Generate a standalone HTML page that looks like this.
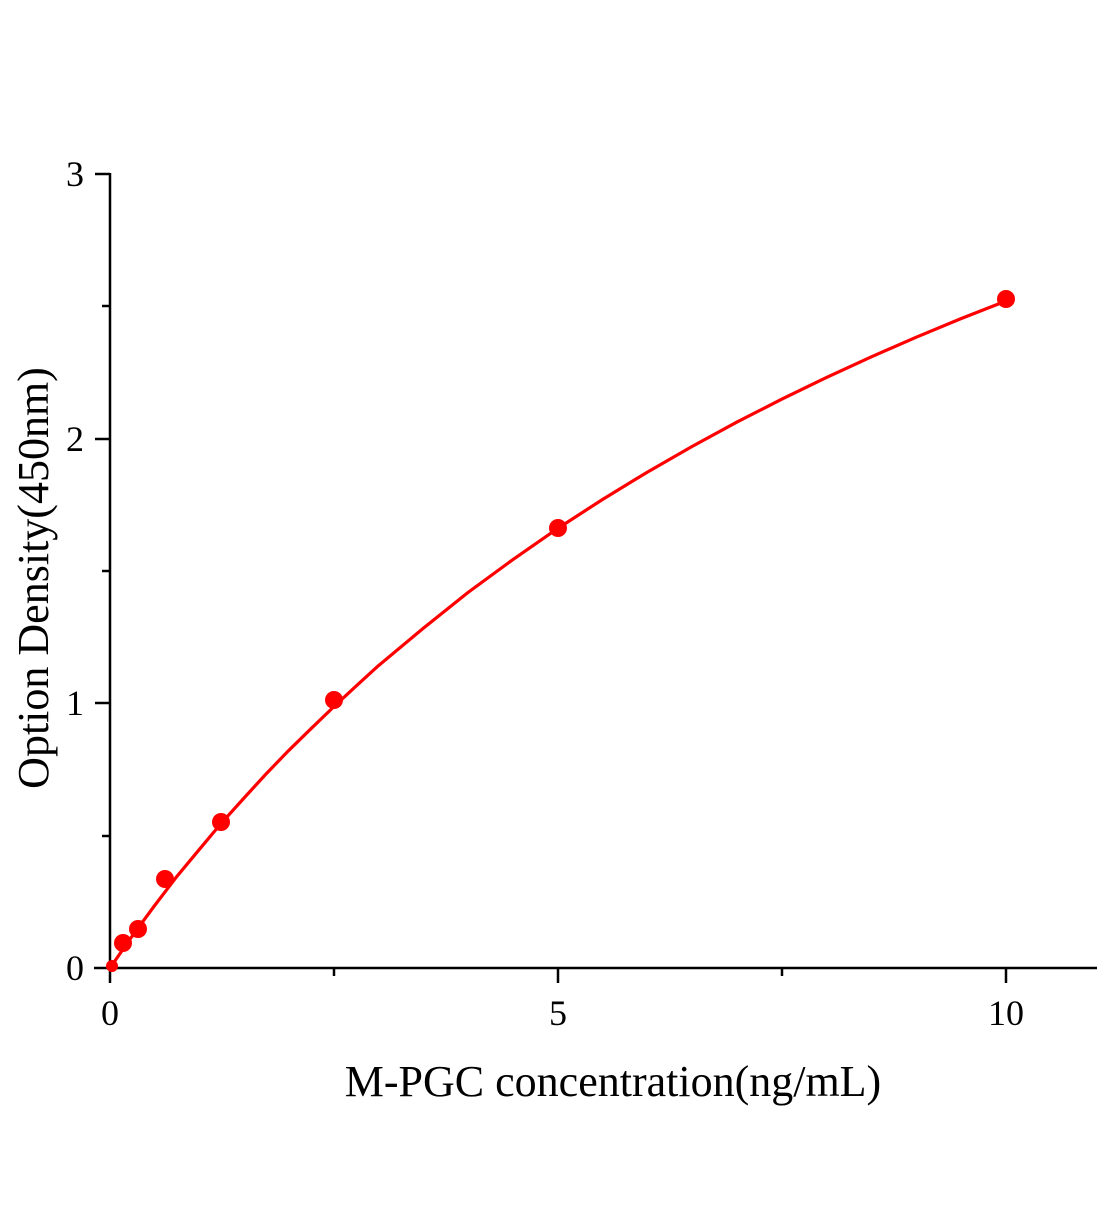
<!DOCTYPE html>
<html><head><meta charset="utf-8"><style>
html,body{margin:0;padding:0;background:#fff;}
</style></head><body>
<svg width="1104" height="1200" viewBox="0 0 1104 1200" xmlns="http://www.w3.org/2000/svg" font-family="Liberation Serif, serif">
<rect width="1104" height="1200" fill="#fff"/>
<g stroke="#000" stroke-width="2.5" fill="none">
<line x1="110" y1="173" x2="110" y2="969"/>
<line x1="94" y1="968" x2="1097" y2="968"/>
<line x1="95" y1="174" x2="110" y2="174"/>
<line x1="95" y1="439" x2="110" y2="439"/>
<line x1="95" y1="703" x2="110" y2="703"/>
<line x1="102" y1="306" x2="110" y2="306"/>
<line x1="102" y1="571" x2="110" y2="571"/>
<line x1="102" y1="836" x2="110" y2="836"/>
<line x1="110" y1="968" x2="110" y2="983"/>
<line x1="558" y1="968" x2="558" y2="983"/>
<line x1="1006" y1="968" x2="1006" y2="983"/>
<line x1="334" y1="968" x2="334" y2="976"/>
<line x1="782" y1="968" x2="782" y2="976"/>
</g>
<g font-size="36" fill="#000">
<text x="84" y="186" text-anchor="end">3</text>
<text x="84" y="451" text-anchor="end">2</text>
<text x="84" y="715" text-anchor="end">1</text>
<text x="84" y="980" text-anchor="end">0</text>
<text x="110" y="1025" text-anchor="middle">0</text>
<text x="558" y="1025" text-anchor="middle">5</text>
<text x="1006" y="1025" text-anchor="middle">10</text>
</g>
<text x="613" y="1096" font-size="44" text-anchor="middle">M-PGC concentration(ng/mL)</text>
<text transform="translate(48,578) rotate(-90)" font-size="44" text-anchor="middle">Option Density(450nm)</text>
<path fill="none" stroke="#f00" stroke-width="3.2" d="M110,968 L131.5,937 L153.9,906.5 L176,877.5 L198.7,850.2 L221,823.5 L243.6,798.5 L266,774 L288.4,750.8 L311,728.7 L333,707.5 L355.7,686.4 L378.1,666 L423,628.5 L467.8,592.6 L512.6,559.8 L557.5,528.6 L602.3,499.6 L647.2,472.2 L692,446.5 L736.9,422.1 L781.7,399.2 L826.6,377.4 L871.4,356.8 L916.3,337.2 L961,318.6 L1006,301"/>
<g fill="#f00">
<circle cx="112" cy="966" r="6"/>
<circle cx="123" cy="943" r="9"/>
<circle cx="138" cy="929" r="9"/>
<circle cx="165" cy="879" r="9"/>
<circle cx="221" cy="822" r="9"/>
<circle cx="334" cy="700" r="9"/>
<circle cx="558" cy="528" r="9"/>
<circle cx="1006" cy="299" r="9"/>
</g>
</svg>
</body></html>
